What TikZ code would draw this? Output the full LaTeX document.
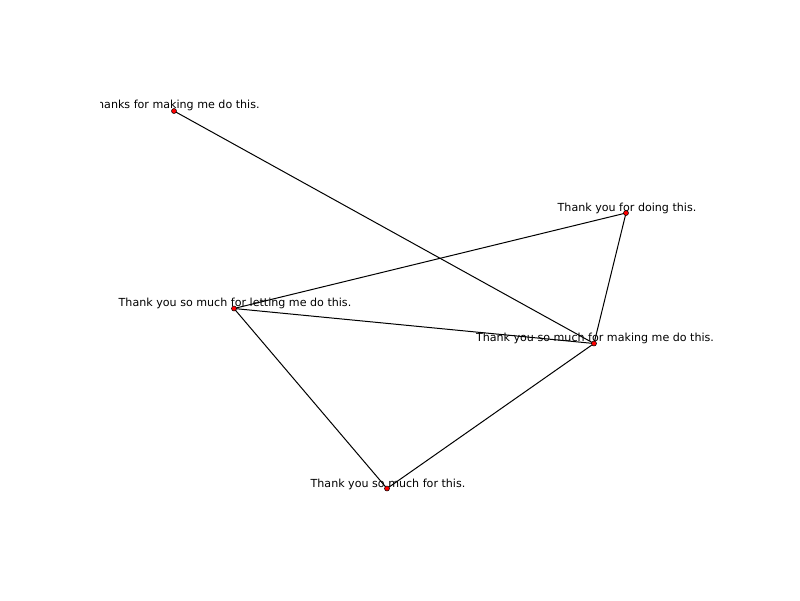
\documentclass[tikz,border=0pt]{standalone}
\usepackage{fontspec}
\setmainfont{DejaVu Sans}
\begin{document}
\begin{tikzpicture}[x=1pt,y=-1pt,
  dot/.style={circle,fill=red,draw=black,line width=0.5pt,inner sep=0pt,minimum size=5pt},
  lbl/.style={inner sep=0pt,font=\fontsize{11.1}{13}\selectfont},
  edge/.style={draw=black,line width=1pt}]
\useasboundingbox[fill=white] (0,0) rectangle (800,600);
% labels
\begin{scope}
\clip (100,60) rectangle (720,540);
\node[lbl] (la) at (175,105) {Thanks for making me do this.};
\end{scope}
\node[lbl] (lb) at (627,208.5) {Thank you for doing this.};
\node[lbl] (lc) at (235,303) {Thank you so much for letting me do this.};
\node[lbl] (ld) at (595,338.5) {Thank you so much for making me do this.};
\node[lbl] (le) at (388,484) {Thank you so much for this.};
% node coordinates
\coordinate (A) at (174,111);
\coordinate (B) at (626,213);
\coordinate (C) at (234,308.5);
\coordinate (D) at (594,343.5);
\coordinate (E) at (387,488.5);
% edges
\draw[edge] (A) -- (D);
\draw[edge] (B) -- (C);
\draw[edge] (B) -- (D);
\draw[edge] (C) -- (D);
\draw[edge] (C) -- (E);
\draw[edge] (D) -- (E);
% nodes
\foreach \n in {A,B,C,D,E} \node[dot] (n\n) at (\n) {};
\end{tikzpicture}
\end{document}
